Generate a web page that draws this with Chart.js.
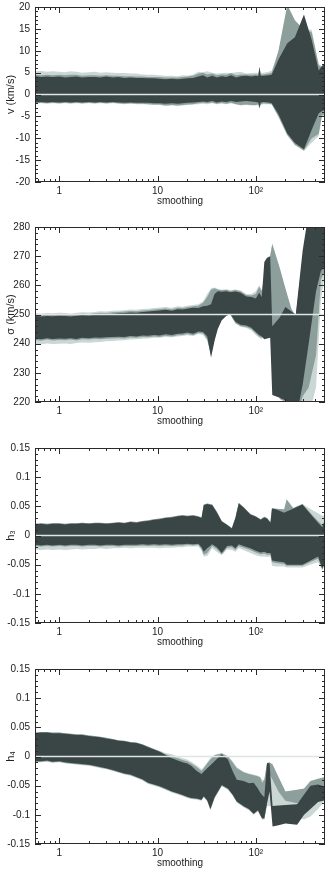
<!DOCTYPE html>
<html><head><meta charset="utf-8">
<script src="https://cdn.jsdelivr.net/npm/chart.js@4.4.1/dist/chart.umd.min.js"></script>
<style>
html,body{margin:0;padding:0;background:#fff;width:330px;height:872px;overflow:hidden;position:relative}
canvas{position:absolute;left:0}
</style></head><body>
<canvas id="c1" width="330" height="214" style="top:-4px"></canvas>
<canvas id="c2" width="330" height="214" style="top:216px"></canvas>
<canvas id="c3" width="330" height="214" style="top:437px"></canvas>
<canvas id="c4" width="330" height="214" style="top:658px"></canvas>
<script>
// ---------- tick labels ----------
const xTickValues = [0.6,0.7,0.8,0.9,1,2,3,4,5,6,7,8,9,10,20,30,40,50,60,70,80,90,100,200,300,400,500];
const xLabelValues = [1,10,100];
const xLabelTexts = ['1','10','10\u00b2'];
const p1YTicks = [-20,-15,-10,-5,0,5,10,15,20];
const p2YTicks = [220,230,240,250,260,270,280];
const p3YTicks = [-0.15,-0.1,-0.05,0,0.05,0.1,0.15];
const p4YTicks = [-0.15,-0.1,-0.05,0,0.05,0.1,0.15];
const yTitles = ['v (km/s)','\u03c3 (km/s)','h\u2083','h\u2084'];
const xTitle = 'smoothing';
const refValues = [0, 250, 0, 0];

// ---------- panel 1 : v ----------
const p1X = [0.57,0.65,0.75,0.85,1.0,1.15,1.3,1.5,1.7,2.0, 2.3,2.6,3.0,3.5,4.0,4.6,5.3,6.1,7.0,8.0, 9.2,10.5,12,14,16,18,20,23,26,29, 32,36,40,45,50,56,63,70,80,90, 100,106,109,112,120,135,145,170,209,250, 309,370,437,470,506];
const p1DarkHi = [4.2,4.0,4.1,4.0,4.1,3.9,4.0,4.1,3.9,4.0, 4.0,3.9,4.1,3.9,4.0,3.8,3.9,3.8,3.8,3.7, 3.7,3.6,3.5,3.6,3.5,3.6,3.7,3.8,4.1,4.4, 3.9,4.3,3.9,4.2,4.0,4.4,3.9,4.2,4.3,4.1, 4.3,4.2,6.3,4.3,4.3,4.4,4.5,8.0,11.7,13.1, 18.3,12.5,5.5,6.5,7.0];
const p1DarkLo = [-1.8,-1.7,-1.8,-1.7,-1.8,-1.7,-1.8,-1.7,-1.8,-1.7, -1.8,-1.7,-1.8,-1.7,-1.8,-1.9,-1.8,-1.9,-1.9,-1.9, -2.0,-2.0,-2.1,-2.0,-2.1,-2.0,-1.9,-1.8,-1.7,-1.6, -1.7,-1.5,-1.8,-1.6,-1.7,-1.5,-1.7,-1.6,-1.5,-1.6, -1.7,-1.8,-3.0,-1.8,-1.7,-1.8,-2.0,-4.5,-8.9,-11.1, -12.5,-8.1,-4.3,-3.8,-3.5];
const p1MedHi = [4.5,4.4,4.5,4.4,4.5,4.4,4.5,4.5,4.3,4.4, 4.4,4.3,4.4,4.3,4.3,4.2,4.2,4.1,4.1,4.0, 4.0,4.0,3.9,3.9,3.9,4.0,4.1,4.3,4.8,5.0, 4.6,4.8,4.4,4.6,4.5,4.9,4.4,4.6,4.6,4.5, 4.6,4.5,6.3,4.6,4.6,4.8,5.0,10.0,20.5,17.0, 14.8,14.3,6.7,6.2,7.0];
const p1MedLo = [-2.0,-1.9,-2.0,-1.9,-2.0,-1.9,-2.0,-1.9,-2.0,-1.9, -2.0,-1.9,-2.0,-1.9,-2.0,-2.1,-2.0,-2.1,-2.1,-2.2, -2.3,-2.3,-2.5,-2.4,-2.5,-2.4,-2.3,-2.2,-2.0,-1.9, -2.0,-1.8,-2.1,-1.9,-2.1,-1.9,-2.2,-2.4,-2.3,-2.4, -2.4,-2.2,-3.2,-2.2,-2.0,-2.1,-2.2,-5.0,-9.2,-11.5, -12.8,-10.0,-9.0,-4.8,-4.5];
const p1LightHi = [5.3,5.4,5.2,5.3,5.2,5.1,5.3,5.2,5.0,5.1, 5.2,5.0,5.1,5.0,4.9,4.9,4.8,4.8,4.6,4.5, 4.5,4.4,4.3,4.3,4.2,4.4,4.3,4.6,5.2,5.1, 5.3,5.0,4.8,4.9,5.0,4.9,5.1,5.2,4.8,4.9, 5.0,4.9,6.3,5.0,5.0,5.2,5.5,9.5,19.5,16.5, 15.0,14.8,7.0,6.5,7.2];
const p1LightLo = [-2.1,-2.0,-2.1,-2.0,-2.1,-2.0,-2.1,-2.0,-2.1,-2.0, -2.1,-2.0,-2.1,-2.0,-2.1,-2.2,-2.1,-2.2,-2.2,-2.3, -2.4,-2.4,-2.6,-2.5,-2.6,-2.5,-2.4,-2.3,-2.2,-2.1, -2.2,-2.0,-2.2,-2.1,-2.2,-2.0,-2.3,-2.5,-2.4,-2.5, -2.5,-2.4,-3.3,-2.4,-2.2,-2.2,-2.3,-5.2,-9.4,-11.6, -12.9,-11.0,-9.5,-5.2,-4.7];

// ---------- panel 2 : sigma ----------
const p2X = [0.57,0.65,0.75,0.85,1.0,1.15,1.3,1.5,1.7,2.0, 2.3,2.6,3.0,3.5,4.0,4.6,5.3,6.1,7.0,8.0, 9.2,10.5,12,14,16,18,20,23,26,29, 32,35,38,41,45,50,55,62,70,80, 90,100,108,115,122,130,140,147,175,200, 230,255,300,345,410,460,506];
const p2DarkHi = [249.5,249.3,249.5,249.4,249.6,249.5,249.3,249.6,249.8,249.7, 249.9,250.1,250.0,250.3,250.4,250.5,250.7,250.6,250.9,251.0, 251.2,251.4,251.6,251.3,251.8,251.7,252.0,252.3,252.2,252.8, 253.0,253.5,257.0,258.0,257.8,258.0,257.6,257.9,257.5,256.2, 256.0,255.5,257.5,256.0,268.0,269.5,270.0,246.0,249.0,252.6, 251.0,250.0,272.0,285.0,300.0,300.0,300.0];
const p2DarkLo = [241.8,241.5,241.9,241.6,241.8,241.7,241.9,241.6,242.0,241.9, 242.1,242.0,242.2,242.3,242.4,242.3,242.6,242.5,242.8,242.7, 243.0,242.8,243.2,243.0,243.4,243.5,243.8,243.4,244.2,244.0, 242.5,235.3,241.0,245.0,248.0,249.5,250.2,247.5,246.5,246.2, 245.5,244.0,243.0,242.5,241.5,241.8,242.0,222.4,221.5,220.6, 215.0,214.0,226.0,240.0,258.0,265.0,266.5];
const p2MedHi = [250.0,249.8,250.0,249.9,250.1,250.0,249.8,250.1,250.3,250.2, 250.4,250.6,250.5,250.8,250.9,251.0,251.2,251.1,251.4,251.5, 251.7,251.9,252.1,251.8,252.3,252.2,252.5,252.8,253.0,254.0, 256.0,258.5,259.0,258.5,258.3,258.5,258.1,258.4,258.0,256.7, 256.5,257.0,259.5,258.0,262.0,265.0,270.0,274.3,266.0,259.0, 252.0,249.5,270.0,282.0,300.0,300.0,300.0];
const p2MedLo = [241.3,241.0,241.4,241.1,241.3,241.2,241.4,241.1,241.5,241.4, 241.6,241.5,241.7,241.8,241.9,241.8,242.1,242.0,242.3,242.2, 242.5,242.3,242.7,242.5,242.9,243.0,243.3,242.9,243.7,243.5, 241.5,236.0,241.5,246.0,249.0,250.0,250.0,247.0,246.0,245.7, 245.0,243.5,242.5,242.0,244.0,244.5,245.5,243.0,221.0,220.0, 214.0,213.0,222.0,225.0,236.0,262.0,265.0];
const p2LightHi = [250.5,250.3,250.5,250.4,250.6,250.5,250.3,250.6,250.8,250.7, 250.9,251.1,251.0,251.3,251.4,251.5,251.7,251.6,251.9,252.0, 252.2,252.4,252.6,252.3,252.8,252.7,253.0,253.3,253.5,254.5, 257.0,259.0,259.3,258.8,258.5,258.7,258.3,258.6,258.2,257.0, 257.0,258.0,260.0,258.5,262.5,265.5,270.5,274.0,265.5,258.5, 251.5,249.0,268.0,280.0,300.0,300.0,300.0];
const p2LightLo = [240.0,239.8,240.1,239.9,240.0,240.1,239.9,240.2,240.4,240.3, 240.5,240.6,240.8,240.9,241.1,241.2,241.4,241.5,241.7,241.8, 242.0,242.0,242.3,242.2,242.5,242.6,242.9,242.6,243.3,243.1, 241.0,236.5,241.5,246.5,249.0,250.0,250.0,247.0,245.8,245.4, 244.5,243.0,242.0,241.5,242.5,243.0,243.0,242.0,221.5,220.5, 214.5,213.5,218.0,215.0,225.0,255.0,264.0];

// ---------- panel 3 : h3 ----------
const p3X = [0.57,0.65,0.75,0.85,1.0,1.15,1.3,1.5,1.7,2.0, 2.3,2.6,3.0,3.5,4.0,4.6,5.3,6.1,7.0,8.0, 9.2,10.5,12,14,16,18,20,23,26,28, 29.5,32,36,40,45,51,57,62,67,75, 88,100,112,122,130,141,146,160,194,206, 240,298,390,430,475,506];
const p3DarkHi = [0.019,0.020,0.019,0.020,0.020,0.019,0.020,0.020,0.021,0.020, 0.021,0.021,0.020,0.021,0.022,0.021,0.023,0.022,0.024,0.025, 0.027,0.028,0.030,0.031,0.033,0.034,0.033,0.034,0.032,0.030, 0.052,0.054,0.052,0.040,0.024,0.018,0.012,0.030,0.055,0.048, 0.036,0.032,0.027,0.031,0.029,0.022,0.046,0.045,0.039,0.041, 0.046,0.053,0.030,0.022,0.014,0.026];
const p3DarkLo = [-0.016,-0.017,-0.016,-0.017,-0.016,-0.017,-0.016,-0.016,-0.017,-0.016, -0.016,-0.017,-0.016,-0.016,-0.017,-0.016,-0.016,-0.016,-0.015,-0.016, -0.015,-0.016,-0.015,-0.016,-0.015,-0.015,-0.014,-0.015,-0.014,-0.020, -0.028,-0.022,-0.015,-0.020,-0.030,-0.018,-0.017,-0.022,-0.015,-0.018, -0.022,-0.026,-0.029,-0.028,-0.030,-0.030,-0.043,-0.044,-0.046,-0.050, -0.050,-0.050,-0.040,-0.036,-0.057,-0.045];
const p3MedHi = [0.020,0.021,0.020,0.021,0.021,0.020,0.021,0.021,0.022,0.021, 0.022,0.022,0.021,0.022,0.023,0.022,0.024,0.023,0.025,0.026, 0.028,0.029,0.031,0.032,0.034,0.035,0.034,0.035,0.033,0.031, 0.053,0.055,0.053,0.041,0.025,0.019,0.013,0.031,0.056,0.049, 0.037,0.033,0.028,0.032,0.030,0.023,0.047,0.046,0.045,0.062, 0.047,0.054,0.032,0.025,0.018,0.027];
const p3MedLo = [-0.018,-0.019,-0.018,-0.019,-0.018,-0.019,-0.018,-0.018,-0.019,-0.018, -0.018,-0.019,-0.018,-0.018,-0.019,-0.018,-0.018,-0.018,-0.017,-0.018, -0.017,-0.018,-0.017,-0.018,-0.017,-0.017,-0.016,-0.017,-0.016,-0.023, -0.033,-0.030,-0.018,-0.023,-0.032,-0.021,-0.020,-0.025,-0.018,-0.021, -0.025,-0.029,-0.032,-0.031,-0.033,-0.033,-0.046,-0.047,-0.049,-0.052, -0.052,-0.052,-0.043,-0.040,-0.058,-0.048];
const p3LightHi = [0.020,0.021,0.020,0.021,0.021,0.020,0.021,0.021,0.022,0.021, 0.022,0.022,0.021,0.022,0.023,0.022,0.024,0.023,0.025,0.026, 0.028,0.029,0.031,0.032,0.034,0.035,0.034,0.035,0.033,0.031, 0.053,0.055,0.053,0.041,0.025,0.019,0.013,0.031,0.056,0.049, 0.037,0.033,0.028,0.032,0.030,0.023,0.047,0.046,0.040,0.042, 0.047,0.054,0.042,0.038,0.034,0.035];
const p3LightLo = [-0.024,-0.025,-0.024,-0.025,-0.024,-0.025,-0.024,-0.023,-0.024,-0.023, -0.023,-0.022,-0.023,-0.022,-0.022,-0.021,-0.022,-0.021,-0.021,-0.021, -0.021,-0.022,-0.021,-0.021,-0.020,-0.020,-0.019,-0.019,-0.019,-0.026, -0.036,-0.035,-0.022,-0.028,-0.034,-0.024,-0.025,-0.028,-0.022,-0.025, -0.030,-0.034,-0.036,-0.036,-0.037,-0.036,-0.052,-0.053,-0.053,-0.055, -0.055,-0.055,-0.048,-0.046,-0.060,-0.050];

// ---------- panel 4 : h4 ----------
const p4X = [0.57,0.65,0.75,0.85,1.0,1.15,1.3,1.5,1.7,2.0, 2.3,2.6,3.0,3.5,4.0,4.6,5.3,6.1,7.0,8.0, 9.2,10.5,12,14,16,18,20,22,25,28, 29.5,32,34.5,38,45,52,58,64,75,85, 95,105,111,116,122,130,138,148,170,200, 263,310,360,430,506];
const p4DarkHi = [0.040,0.041,0.041,0.040,0.040,0.039,0.038,0.037,0.037,0.035, 0.034,0.033,0.031,0.029,0.027,0.026,0.024,0.023,0.020,0.016, 0.012,0.008,0.003,-0.003,-0.007,-0.010,-0.012,-0.016,-0.025,-0.030, -0.026,-0.020,-0.015,-0.008,0.004,-0.005,-0.025,-0.040,-0.042,-0.046, -0.045,-0.055,-0.062,-0.066,-0.070,-0.011,-0.012,-0.085,-0.084,-0.083, -0.082,-0.065,-0.050,-0.048,-0.052];
const p4DarkLo = [-0.008,-0.008,-0.007,-0.009,-0.008,-0.010,-0.011,-0.012,-0.013,-0.014, -0.016,-0.018,-0.020,-0.023,-0.026,-0.029,-0.031,-0.035,-0.039,-0.045, -0.048,-0.051,-0.055,-0.060,-0.063,-0.066,-0.069,-0.071,-0.072,-0.074, -0.068,-0.075,-0.090,-0.070,-0.049,-0.055,-0.065,-0.077,-0.085,-0.090, -0.098,-0.092,-0.100,-0.106,-0.106,-0.080,-0.060,-0.120,-0.118,-0.115, -0.117,-0.100,-0.090,-0.078,-0.075];
const p4MedHi = [0.041,0.042,0.042,0.041,0.041,0.040,0.039,0.038,0.038,0.036, 0.035,0.034,0.032,0.030,0.028,0.027,0.025,0.024,0.021,0.017, 0.013,0.009,0.004,0.000,-0.003,-0.006,-0.008,-0.012,-0.018,-0.025, -0.020,-0.012,-0.005,0.002,0.005,0.000,-0.010,-0.020,-0.027,-0.030, -0.032,-0.034,-0.036,-0.045,-0.040,-0.011,-0.010,-0.014,-0.035,-0.060, -0.057,-0.055,-0.042,-0.038,-0.035];
const p4MedLo = [-0.009,-0.009,-0.008,-0.010,-0.009,-0.011,-0.012,-0.013,-0.014,-0.015, -0.017,-0.019,-0.021,-0.024,-0.027,-0.030,-0.032,-0.036,-0.040,-0.046, -0.049,-0.052,-0.056,-0.061,-0.064,-0.067,-0.070,-0.072,-0.073,-0.075, -0.069,-0.076,-0.091,-0.071,-0.050,-0.056,-0.066,-0.078,-0.086,-0.091, -0.099,-0.093,-0.101,-0.107,-0.107,-0.081,-0.030,-0.040,-0.060,-0.076, -0.080,-0.070,-0.062,-0.060,-0.058];
const p4LightHi = [0.041,0.042,0.042,0.041,0.041,0.040,0.039,0.038,0.038,0.036, 0.035,0.034,0.032,0.030,0.028,0.027,0.025,0.024,0.021,0.017, 0.013,0.010,0.006,0.004,0.000,-0.003,-0.005,-0.009,-0.015,-0.022, -0.018,-0.010,-0.002,0.003,0.006,0.001,-0.008,-0.018,-0.026,-0.029, -0.031,-0.033,-0.035,-0.040,-0.040,-0.012,-0.011,-0.013,-0.035,-0.060, -0.058,-0.056,-0.043,-0.039,-0.036];
const p4LightLo = [-0.010,-0.010,-0.009,-0.011,-0.010,-0.012,-0.013,-0.014,-0.015,-0.016, -0.018,-0.020,-0.022,-0.025,-0.028,-0.031,-0.033,-0.037,-0.041,-0.047, -0.050,-0.053,-0.057,-0.062,-0.065,-0.068,-0.071,-0.073,-0.074,-0.076, -0.070,-0.077,-0.092,-0.072,-0.051,-0.057,-0.067,-0.079,-0.087,-0.092, -0.100,-0.094,-0.102,-0.108,-0.108,-0.085,-0.085,-0.085,-0.085,-0.088, -0.105,-0.108,-0.103,-0.090,-0.075];

// ---------- styling ----------
const COL_DARK = '#3a4545';
const COL_MED = '#8d9f9b';
const COL_LIGHT = '#cbd7d4';
const COL_REF = '#dfe5e5';
const FONT = {family:'"Liberation Sans", Arial, Helvetica, sans-serif', size:10};
const X_MIN = 0.565, X_MAX = 506;

function pts(xs, ys){ return xs.map((x,i)=>({x:x, y:ys[i]})); }

const framePlugin = {
  id:'frame',
  afterDatasetsDraw(chart, args, opts){
    const ctx = chart.ctx, a = chart.chartArea, xs = chart.scales.x, ys = chart.scales.y;
    ctx.save();
    ctx.strokeStyle = '#2a2a2a'; ctx.lineWidth = 1;
    ctx.beginPath();
    xTickValues.forEach(v=>{
      const px = Math.round(xs.getPixelForValue(v)) + 0.5;
      const len = xLabelValues.includes(v) ? 6 : 3;
      ctx.moveTo(px, a.bottom); ctx.lineTo(px, a.bottom - len);
      ctx.moveTo(px, a.top); ctx.lineTo(px, a.top + len);
    });
    const n = Math.round((opts.max - opts.min)/opts.minor);
    for (let i=0;i<=n;i++){
      const v = opts.min + i*opts.minor;
      const major = opts.ticks.some(t=>Math.abs(t-v) < opts.minor*0.01);
      const len = major ? 6 : 3;
      const py = Math.round(ys.getPixelForValue(v)) + 0.5;
      ctx.moveTo(a.left, py); ctx.lineTo(a.left + len, py);
      ctx.moveTo(a.right, py); ctx.lineTo(a.right - len, py);
    }
    ctx.stroke();
    ctx.strokeRect(Math.round(a.left)+0.5, Math.round(a.top)+0.5, Math.round(a.right-a.left)-1, Math.round(a.bottom-a.top)-1);
    ctx.restore();
  }
};

function band(xs, lo, hi, color, order){
  return [
    {data:pts(xs,lo), borderWidth:0, pointRadius:0, fill:false, order:order, backgroundColor:color, tension:0},
    {data:pts(xs,hi), borderWidth:0, pointRadius:0, fill:'-1', order:order, backgroundColor:color, tension:0}
  ];
}

function makePanel(id, xs, lLo, lHi, mLo, mHi, dLo, dHi, ref, yMin, yMax, yTicks, minor, yTitle){
  const datasets = [].concat(
    band(xs, lLo, lHi, COL_LIGHT, 3),
    band(xs, mLo, mHi, COL_MED, 2),
    band(xs, dLo, dHi, COL_DARK, 1),
    [{data:[{x:X_MIN,y:ref},{x:X_MAX,y:ref}], borderColor:COL_REF, borderWidth:1.5, pointRadius:0, fill:false, order:0}]
  );
  new Chart(document.getElementById(id), {
    type:'line',
    data:{datasets:datasets},
    options:{
      responsive:false, animation:false, parsing:true,
      layout:{padding:{top:2,right:5,left:0,bottom:0}},
      plugins:{legend:{display:false}, tooltip:{enabled:false},
        frame:{min:yMin, max:yMax, minor:minor, ticks:yTicks}},
      scales:{
        x:{type:'logarithmic', min:X_MIN, max:X_MAX,
          grid:{display:false, drawTicks:false}, border:{display:false},
          afterBuildTicks:(s)=>{ s.ticks = xTickValues.map(v=>({value:v})); },
          afterFit:(s)=>{ s.height = 28; },
          ticks:{autoSkip:false, maxRotation:0, padding:3, color:'#222', font:FONT,
            callback:(v)=>{ const k = xLabelValues.indexOf(v); return k>=0 ? xLabelTexts[k] : ''; }},
          title:{display:true, text:xTitle, color:'#222', font:FONT, padding:{top:0,bottom:3}}
        },
        y:{type:'linear', min:yMin, max:yMax,
          grid:{display:false, drawTicks:false}, border:{display:false},
          afterBuildTicks:(s)=>{ s.ticks = yTicks.map(v=>({value:v})); },
          afterFit:(s)=>{ s.width = 35; },
          ticks:{padding:5, color:'#222', font:FONT, callback:(v)=>String(v)},
          title:{display:true, text:yTitle, color:'#222', font:{family:FONT.family, size:11}, padding:{top:4,bottom:0}}
        }
      }
    },
    plugins:[framePlugin]
  });
}

makePanel('c1', p1X, p1LightLo, p1LightHi, p1MedLo, p1MedHi, p1DarkLo, p1DarkHi, refValues[0], -20, 20, p1YTicks, 1, yTitles[0]);
makePanel('c2', p2X, p2LightLo, p2LightHi, p2MedLo, p2MedHi, p2DarkLo, p2DarkHi, refValues[1], 220, 280, p2YTicks, 2, yTitles[1]);
makePanel('c3', p3X, p3LightLo, p3LightHi, p3MedLo, p3MedHi, p3DarkLo, p3DarkHi, refValues[2], -0.15, 0.15, p3YTicks, 0.01, yTitles[2]);
makePanel('c4', p4X, p4LightLo, p4LightHi, p4MedLo, p4MedHi, p4DarkLo, p4DarkHi, refValues[3], -0.15, 0.15, p4YTicks, 0.01, yTitles[3]);
</script>
</body></html>
